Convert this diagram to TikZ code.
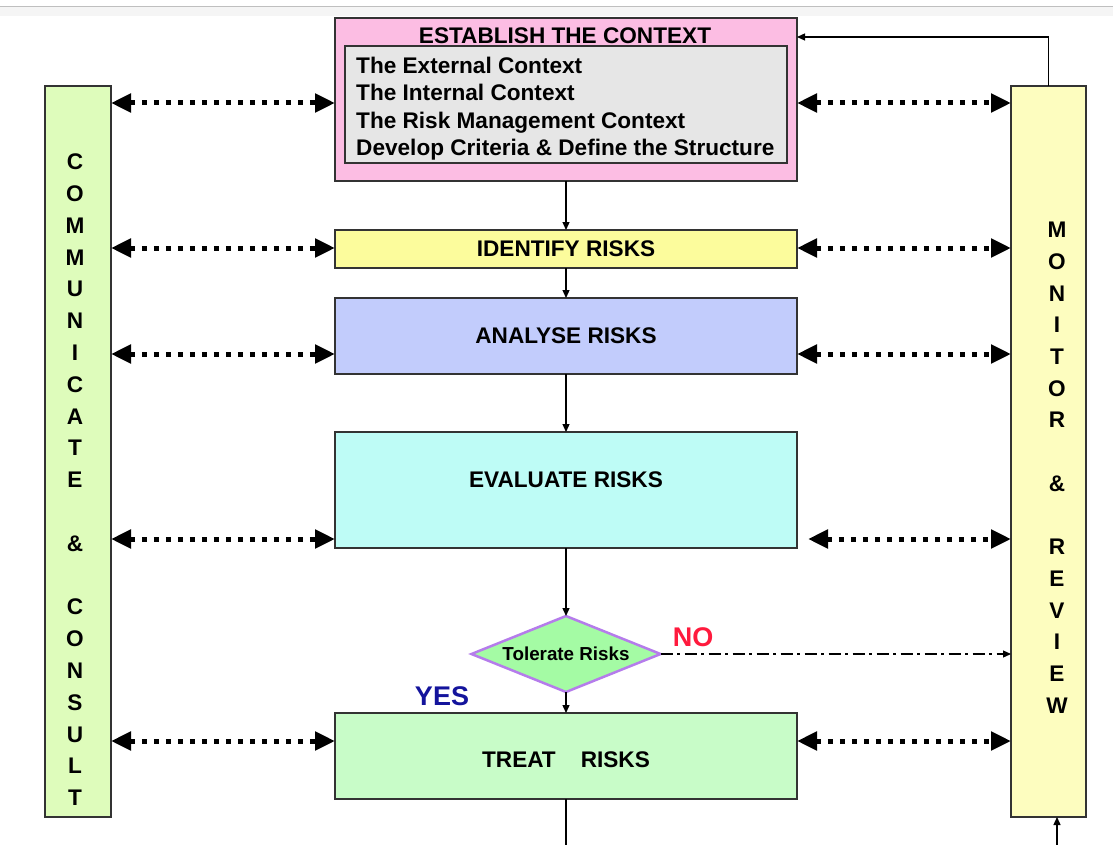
\documentclass[tikz,border=0pt]{standalone}
\usepackage{fontspec}
\setmainfont{Liberation Sans}
\usetikzlibrary{arrows.meta,shapes.geometric,calc}

\definecolor{ctxpink}{HTML}{FCBDE3}
\definecolor{ctxgray}{HTML}{E6E6E6}
\definecolor{commgreen}{HTML}{DEFCBB}
\definecolor{monyellow}{HTML}{FDFDBF}
\definecolor{idyellow}{HTML}{FCFC9C}
\definecolor{anblue}{HTML}{C2CCFC}
\definecolor{evcyan}{HTML}{BEFCF6}
\definecolor{tolgreen}{HTML}{A4FBA4}
\definecolor{tolpurple}{HTML}{B57CEB}
\definecolor{trgreen}{HTML}{C8FCC8}
\definecolor{yesblue}{HTML}{14149C}
\definecolor{nored}{HTML}{FF1A3D}
\definecolor{edgegray}{HTML}{333333}

\newcommand\boxfont{\fontsize{22.6}{26}\selectfont\bfseries}

\begin{document}
\begin{tikzpicture}[x=1pt,y=-1pt,
  procbox/.style={draw=edgegray, line width=1.5pt, inner sep=0pt, outer sep=0pt,
    minimum width=462pt, font=\boxfont},
  boxtext/.style={inner sep=0pt, font=\boxfont},
  listtext/.style={inner sep=0pt, font=\boxfont},
  sidebar/.style={draw=edgegray, line width=1.5pt, inner sep=0pt, outer sep=0pt,
    minimum height=731pt},
  barletter/.style={inner sep=0pt, font=\boxfont},
  flow/.style={line width=1.3pt, -{Triangle[length=8pt,width=7pt]}},
  plainline/.style={line width=1.3pt},
  linkarrow/.style={line width=5pt, dash pattern=on 5pt off 7pt,
    {Triangle[length=20pt,width=18pt]}-{Triangle[length=20pt,width=18pt]}},
  nolink/.style={line width=1.2pt, dash pattern=on 12pt off 4.5pt on 3pt off 4.5pt,
    -{Triangle[length=8pt,width=7pt]}},
]
\useasboundingbox (0,0) rectangle (1113,845);

% faint rule along the top edge
\fill[black!4] (0,7) rectangle (1113,16);
\draw[black!25, line width=1pt] (0,6.5) -- (1113,6.5);

% establish the context
\node[procbox, fill=ctxpink, minimum height=163pt] (ctx) at (566,99.5) {};
\node[draw=edgegray, line width=1.3pt, fill=ctxgray, inner sep=0pt,
  minimum width=442pt, minimum height=117pt] (ctxlist) at (566,104.5) {};
\node[boxtext, anchor=base] (ctxtitle) at (565,43.3) {ESTABLISH THE CONTEXT};
\node[listtext, anchor=base west] (ctxa) at (356,73.5) {The External Context};
\node[listtext, anchor=base west] (ctxb) at (356,101) {The Internal Context};
\node[listtext, anchor=base west] (ctxc) at (356,128.3) {The Risk Management Context};
\node[listtext, anchor=base west] (ctxd) at (356,155.7) {Develop Criteria \& Define the Structure};

% process steps
\node[procbox, fill=idyellow, minimum height=38pt] (id) at (566,249) {IDENTIFY RISKS};
\node[procbox, fill=anblue, minimum height=76pt] (an) at (566,336) {ANALYSE RISKS};
\node[procbox, fill=evcyan, minimum height=116pt] (ev) at (566,490) {};
\node[boxtext] (evtext) at (566,480) {EVALUATE RISKS};
\node[diamond, aspect=2.5, draw=tolpurple, line width=2.5pt, fill=tolgreen,
  inner sep=0pt, outer sep=0pt, minimum width=189pt, minimum height=76pt,
  font=\fontsize{18.8}{22}\selectfont\bfseries] (tol) at (566,654) {Tolerate Risks};
\node[procbox, fill=trgreen, minimum height=86pt] (tr) at (566,756) {};
\node[boxtext] (trtext) at (566,760) {TREAT\hspace{25pt}RISKS};

\node[inner sep=0pt, text=yesblue, font=\fontsize{27}{30}\selectfont\bfseries] (yes) at (442,696) {YES};
\node[inner sep=0pt, text=nored, font=\fontsize{27}{30}\selectfont\bfseries] (no) at (693,637) {NO};

% side bars
\node[sidebar, fill=commgreen, minimum width=66pt] (comm) at (78,451.5) {};
\node[sidebar, fill=monyellow, minimum width=75pt] (mon) at (1048.5,451.5) {};

\foreach \ch/\r in {C/0,O/1,M/2,M/3,U/4,N/5,I/6,C/7,A/8,T/9,E/10,\&/12,C/14,O/15,N/16,S/17,U/18,L/19,T/20}
  \node[barletter] (comm\r) at (75,{162+31.8*\r}) {\ch};
\foreach \ch/\r in {M/0,O/1,N/2,I/3,T/4,O/5,R/6,\&/8,R/10,E/11,V/12,I/13,E/14,W/15}
  \node[barletter] (mon\r) at (1057,{230+31.7*\r}) {\ch};

% main flow
\draw[flow] (ctx.south) -- (id.north);
\draw[flow] (id.south) -- (an.north);
\draw[flow] (an.south) -- (ev.north);
\draw[flow] (ev.south) -- (tol.north);
\draw[flow] (tol.south) -- (tr.north);
\coordinate (trout) at (566,845);
\draw[plainline] (tr.south) -- (trout);

% feedback from monitor & review
\coordinate (fbk) at ([yshift=-19pt]ctx.north east);
\draw[flow] (mon.north) |- (fbk);
\coordinate (monfeed) at (1057,845);
\draw[flow] (monfeed) -- (monfeed |- mon.south);

% not tolerated
\draw[nolink] (tol.east) -- (mon.west |- tol.east);

% communication links
\coordinate (aL1) at ([yshift=-3.5pt]ctx.west);
\coordinate (aR1) at ([yshift=-3.5pt]ctx.east);
\coordinate (aL2) at ([yshift=1pt]id.west);
\coordinate (aR2) at ([yshift=1pt]id.east);
\coordinate (aL3) at ([yshift=-18pt]an.west);
\coordinate (aR3) at ([yshift=-18pt]an.east);
\coordinate (aL4) at ([yshift=-49pt]ev.west);
\coordinate (aR4) at ([xshift=11pt,yshift=-49pt]ev.east);
\coordinate (aL5) at ([yshift=15pt]tr.west);
\coordinate (aR5) at ([yshift=15pt]tr.east);
\foreach \k in {1,...,5} {
  \draw[linkarrow] (comm.east |- aL\k) -- (aL\k);
  \draw[linkarrow] (aR\k) -- (mon.west |- aR\k);
}
\end{tikzpicture}
\end{document}
